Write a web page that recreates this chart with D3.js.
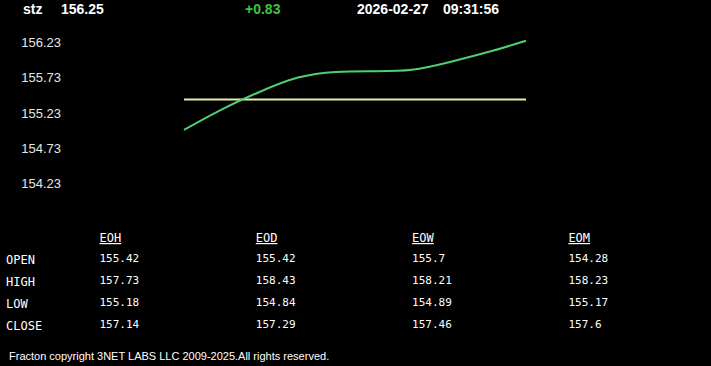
<!DOCTYPE html>
<html>
<head>
<meta charset="utf-8">
<script src="https://cdn.jsdelivr.net/npm/d3@7"></script>
<style>
  html, body { margin: 0; padding: 0; background: #000; }
  svg { display: block; }
</style>
</head>
<body>
<div id="contenedor"></div>
<script>
// datos
simbolo = "stz"
ultimo = 156.25
cambio = "+0.83"
fecha = "2026-02-27"
hora = "09:31:56"
apertura = 155.42

precios = [154.99, 155.28, 155.53, 155.73, 155.81, 155.82, 155.84, 155.95, 156.09, 156.25]
ticksY = [156.23, 155.73, 155.23, 154.73, 154.23]

periodos = ["EOH", "EOD", "EOW", "EOM"]
filas = ["OPEN", "HIGH", "LOW", "CLOSE"]
valores = [
    ["155.42", "155.42", "155.7", "154.28"],
    ["157.73", "158.43", "158.21", "158.23"],
    ["155.18", "154.84", "154.89", "155.17"],
    ["157.14", "157.29", "157.46", "157.6"]
]

ancho = 711
alto = 366

svg = d3.select("#contenedor")
    .append("svg")
    .attr("width", ancho)
    .attr("height", alto)

svg.append("rect").attr("width", ancho).attr("height", alto).attr("fill", "#000")

// cabecera
cab = svg.append("g")
    .attr("font-family", "Liberation Sans, Arial, sans-serif")
    .attr("font-weight", "bold")
    .attr("font-size", 14)
    .attr("fill", "#fff")

cab.append("text").attr("x", 23).attr("y", 14).text(simbolo)
cab.append("text").attr("x", 61).attr("y", 14).text(ultimo)
cab.append("text").attr("x", 245).attr("y", 14).attr("fill", "#3ec43e").text(cambio)
cab.append("text").attr("x", 357).attr("y", 14).text(fecha)
cab.append("text").attr("x", 443).attr("y", 14).text(hora)

// escalas
escalaX = d3.scaleLinear()
    .domain([0, precios.length - 1])
    .range([184, 526])

escalaY = d3.scaleLinear()
    .domain([154.23, 156.23])
    .range([183.75, 42.15])

ejeY = d3.axisLeft(escalaY)
    .tickValues(ticksY)
    .tickSize(0)
    .tickPadding(3)
    .tickFormat(d3.format(".2f"))

gEje = svg.append("g")
    .attr("transform", "translate(64,0)")
    .call(ejeY)

gEje.select(".domain").remove()
gEje.selectAll("text")
    .attr("fill", "#e6e6e6")
    .attr("font-family", "Liberation Sans, Arial, sans-serif")
    .attr("font-size", 13)

// linea de apertura
svg.append("line")
    .attr("x1", escalaX(0))
    .attr("x2", escalaX(precios.length - 1))
    .attr("y1", escalaY(apertura))
    .attr("y2", escalaY(apertura))
    .attr("stroke", "#e4f0a0")
    .attr("stroke-width", 2)

// linea de precio
linea = d3.line()
    .x(function(d, i) { return escalaX(i) })
    .y(function(d) { return escalaY(d) })
    .curve(d3.curveNatural)

svg.append("path")
    .datum(precios)
    .attr("d", linea)
    .attr("fill", "none")
    .attr("stroke", "#4fcf73")
    .attr("stroke-width", 2)

// tabla
colX = d3.scaleLinear().domain([0, 1]).range([99.5, 255.8])
filaY = [262, 284, 306, 328]

tabla = svg.append("g")
    .attr("font-family", "DejaVu Sans Mono, monospace")
    .attr("fill", "#fff")

tabla.selectAll(".periodo")
    .data(periodos)
    .enter()
    .append("text")
    .attr("class", "periodo")
    .attr("x", function(d, i) { return colX(i) })
    .attr("y", 242)
    .attr("font-size", 12)
    .attr("text-decoration", "underline")
    .text(function(d) { return d })

tabla.selectAll(".fila")
    .data(filas)
    .enter()
    .append("text")
    .attr("class", "fila")
    .attr("x", 6)
    .attr("y", function(d, i) { return filaY[i] + 1.5 })
    .attr("font-size", 12)
    .text(function(d) { return d })

valores.forEach(function(fila, j) {
    tabla.selectAll(".v" + j)
        .data(fila)
        .enter()
        .append("text")
        .attr("class", "v" + j)
        .attr("x", function(d, i) { return colX(i) })
        .attr("y", filaY[j])
        .attr("font-size", 11)
        .text(function(d) { return d })
})

// pie
svg.append("text")
    .attr("x", 9)
    .attr("y", 359.5)
    .attr("font-family", "Liberation Sans, Arial, sans-serif")
    .attr("font-size", 11)
    .attr("fill", "#fff")
    .text("Fracton copyright 3NET LABS LLC 2009-2025.All rights reserved.")
</script>
</body>
</html>
